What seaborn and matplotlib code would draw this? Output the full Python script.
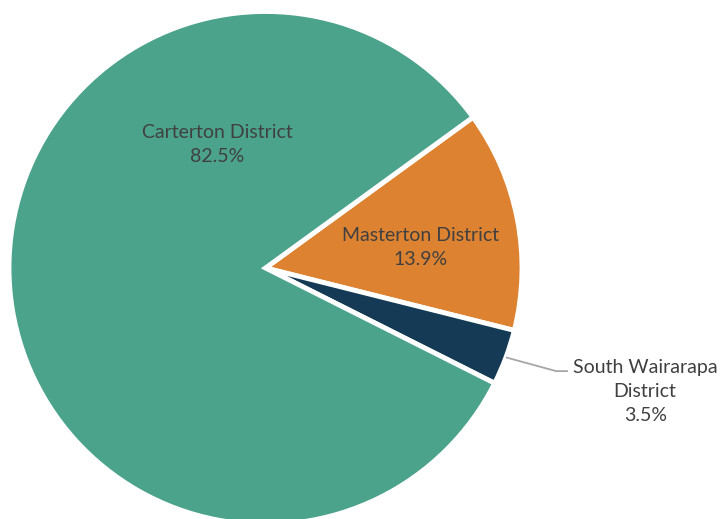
import numpy as np
import matplotlib
matplotlib.use("Agg")
import matplotlib.pyplot as plt
import seaborn as sns

# District shares (percent)
districts = ["Masterton District", "South Wairarapa District", "Carterton District"]
shares = [13.9, 3.5, 82.5]
colors = ["#DD8230", "#143A55", "#4BA38B"]

sns.set_theme(style="white")
plt.rcParams["font.family"] = ["Lato", "DejaVu Sans"]

fig = plt.figure(figsize=(7.2, 5.19), dpi=100)
ax = fig.add_axes([0, 0, 1, 1])

wedges, _ = ax.pie(
    shares,
    colors=sns.color_palette(colors),
    startangle=36,
    counterclock=False,
    radius=1.0,
    center=(0, 0),
    wedgeprops=dict(edgecolor="white", linewidth=3.5),
)

ax.set_xlim(-1.0351, 1.7719)
ax.set_ylim(-0.9786, 1.0448)
ax.set_aspect("auto")
ax.axis("off")

txt = "#404040"
fs = 14
ls = 1.5

def pct(v):
    return f"{v:.1f}%"

# Carterton label inside the big wedge
ax.text(-0.189, 0.481, f"Carterton District\n{pct(shares[2])}", ha="center", va="center",
        color=txt, fontsize=fs, linespacing=ls)
# Masterton label inside its wedge
ax.text(0.606, 0.078, f"Masterton District\n{pct(shares[0])}", ha="center", va="center",
        color=txt, fontsize=fs, linespacing=ls)

# South Wairarapa label outside, joined by a leader line from the wedge rim
sw = wedges[1]
mid = np.deg2rad((sw.theta1 + sw.theta2) / 2)
x0, y0 = np.cos(mid), np.sin(mid)
ax.plot([x0, 1.133, 1.179], [y0, -0.402, -0.402], color="#A6A6A6", lw=1.3,
        solid_capstyle="butt")
ax.text(1.480, -0.481, f"South Wairarapa\nDistrict\n{pct(shares[1])}", ha="center", va="center",
        color=txt, fontsize=fs, linespacing=ls)

fig.savefig("out.png", dpi=100)
